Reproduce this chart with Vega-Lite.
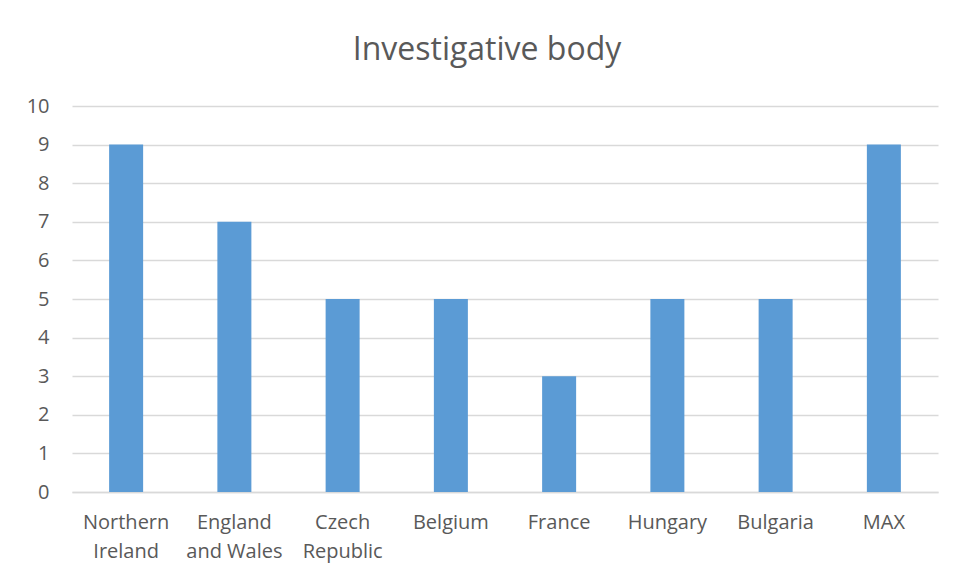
{
  "$schema": "https://vega.github.io/schema/vega-lite/v6.json",
  "width": 866,
  "height": 386,
  "autosize": {"type": "none"},
  "padding": {"left": 72, "top": 106, "right": 17, "bottom": 86},
  "background": "white",
  "title": {
    "text": "Investigative body",
    "font": "Open Sans",
    "fontSize": 32,
    "fontWeight": "normal",
    "color": "#595959",
    "anchor": "middle",
    "baseline": "alphabetic",
    "offset": 4,
    "dx": -18
  },
  "data": {
    "values": [
      {"country": "Northern Ireland", "value": 9},
      {"country": "England and Wales", "value": 7},
      {"country": "Czech Republic", "value": 5},
      {"country": "Belgium", "value": 5},
      {"country": "France", "value": 3},
      {"country": "Hungary", "value": 5},
      {"country": "Bulgaria", "value": 5},
      {"country": "MAX", "value": 9}
    ]
  },
  "mark": {"type": "bar", "color": "#5B9BD5", "size": 34},
  "encoding": {
    "x": {
      "field": "country",
      "type": "nominal",
      "sort": null,
      "scale": {"paddingInner": 0, "paddingOuter": 0},
      "axis": {
        "title": null,
        "labelAngle": 0,
        "labelExpr": "datum.label == 'England and Wales' ? ['England', 'and Wales'] : split(datum.label, ' ')",
        "labelLineHeight": 29,
        "labelPadding": 20,
        "ticks": false,
        "domainColor": "#D9D9D9",
        "domainWidth": 1.5
      }
    },
    "y": {
      "field": "value",
      "type": "quantitative",
      "scale": {"domain": [0, 10]},
      "axis": {
        "title": null,
        "values": [0, 1, 2, 3, 4, 5, 6, 7, 8, 9, 10],
        "labelOverlap": false,
        "domain": false,
        "ticks": false,
        "tickSize": 0,
        "labelPadding": 23,
        "gridColor": "#D9D9D9",
        "gridWidth": 1.5
      }
    }
  },
  "config": {
    "view": {"stroke": null},
    "axis": {
      "labelFont": "Open Sans",
      "labelFontSize": 20,
      "labelColor": "#595959"
    }
  }
}
